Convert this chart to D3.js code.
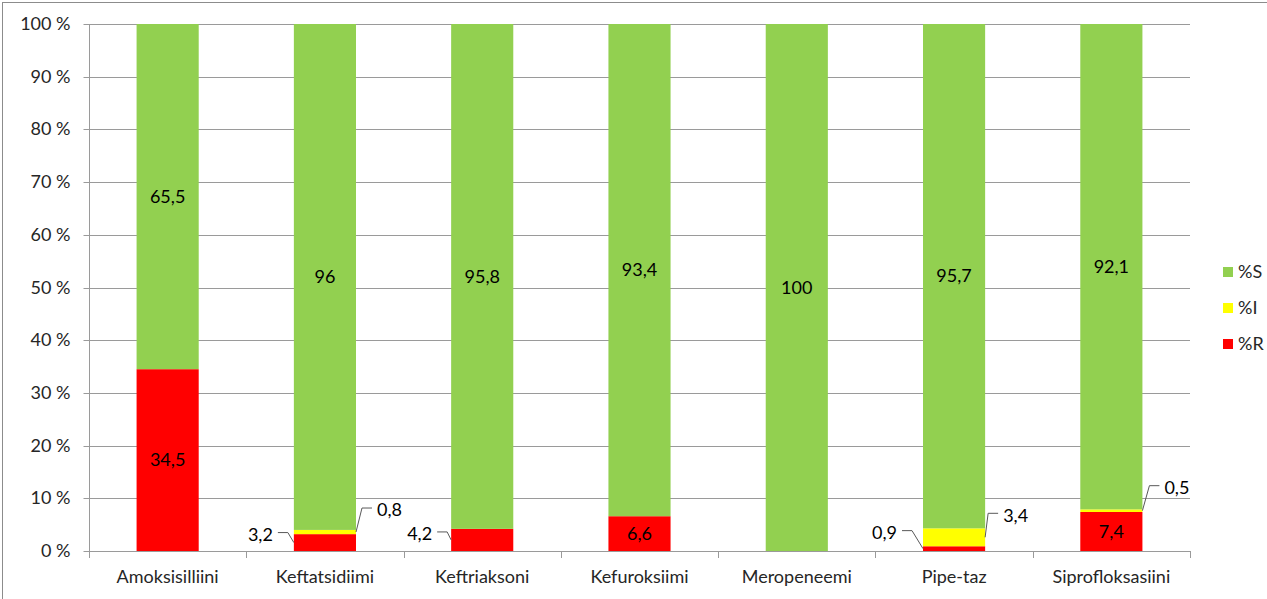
<!DOCTYPE html>
<html>
<head>
<meta charset="utf-8">
<script src="https://cdn.jsdelivr.net/npm/d3@7"></script>
<style>
  html, body { margin: 0; padding: 0; background: #fff; }
  svg { display: block; }
  text { font-family: Lato, "Open Sans", sans-serif; fill: #262626; }
</style>
</head>
<body>
<svg id="chart" width="1267" height="599"></svg>
<script>
// ---- data ----
const categories = ["Amoksisilliini", "Keftatsidiimi", "Keftriaksoni", "Kefuroksiimi", "Meropeneemi", "Pipe-taz", "Siprofloksasiini"];
const seriesNames = ["%R", "%I", "%S"];
const valuesR = [34.5, 3.2, 4.2, 6.6, 0, 0.9, 7.4];
const valuesI = [0, 0.8, 0, 0, 0, 3.4, 0.5];
const valuesS = [65.5, 96, 95.8, 93.4, 100, 95.7, 92.1];
const yTicks = [0, 10, 20, 30, 40, 50, 60, 70, 80, 90, 100];

// ---- layout / style (not data) ----
const colors = { "%R": "#FF0000", "%I": "#FFFF00", "%S": "#92D050" };
const calloutLayout = {
  "Keftatsidiimi|%R": { side: "left", dx: -6, dy: -10 },
  "Keftatsidiimi|%I": { side: "right", dx: 6, dy: -24 },
  "Keftriaksoni|%R": { side: "left", dx: -4, dy: -8 },
  "Pipe-taz|%R": { side: "left", dx: -11, dy: -18 },
  "Pipe-taz|%I": { side: "right", dx: 3, dy: -24 },
  "Siprofloksasiini|%I": { side: "right", dx: 7, dy: -25 }
};

(function () {
const svg = d3.select("#chart");
const pL = 89, pR = 1190, pT = 24, pB = 551;

// outer frame
svg.append("rect").attr("x", 2.5).attr("y", 2.5).attr("width", 1300).attr("height", 700)
  .attr("fill", "none").attr("stroke", "#8c8c8c").attr("stroke-width", 1);

const x = d3.scaleBand().domain(categories).range([pL, pR]).padding(0);
const y = d3.scaleLinear().domain([0, 100]).range([pB, pT]);

// gridlines
svg.append("g").selectAll("line").data(yTicks).join("line")
  .attr("x1", pL).attr("x2", pR)
  .attr("y1", d => Math.round(y(d)) + 0.5).attr("y2", d => Math.round(y(d)) + 0.5)
  .attr("stroke", "#9a9a9a").attr("stroke-width", 1);

// y axis
const yAxis = svg.append("g").attr("transform", `translate(${pL + 0.5},0)`)
  .call(d3.axisLeft(y).tickValues(yTicks).tickSize(6).tickPadding(13).tickFormat(d => d + " %"));
yAxis.select(".domain").remove();
yAxis.selectAll(".tick").attr("transform", d => `translate(0,${Math.round(y(d)) + 0.5})`);
yAxis.selectAll("line").attr("stroke", "#9a9a9a");
yAxis.selectAll("text").style("font-size", "18px").style("font-family", "Lato, sans-serif").attr("fill", "#262626");

svg.append("line").attr("x1", pL + 0.5).attr("x2", pL + 0.5).attr("y1", pT).attr("y2", pB + 0.5)
  .attr("stroke", "#9a9a9a");

// stacked data
const rows = categories.map((c, i) => ({ cat: c, "%R": valuesR[i], "%I": valuesI[i], "%S": valuesS[i] }));
const stack = d3.stack().keys(seriesNames)(rows);

const barW = x.bandwidth() * 0.395;
const bx = c => x(c) + (x.bandwidth() - barW) / 2;

svg.append("g").selectAll("g").data(stack).join("g")
  .attr("fill", s => colors[s.key])
  .selectAll("rect").data(s => s.map(d => ({ d, key: s.key }))).join("rect")
  .attr("x", o => bx(o.d.data.cat))
  .attr("width", barW)
  .attr("y", o => y(o.d[1]))
  .attr("height", o => y(o.d[0]) - y(o.d[1]));

// category axis line + boundary ticks
svg.append("line").attr("x1", pL).attr("x2", pR).attr("y1", pB + 0.5).attr("y2", pB + 0.5)
  .attr("stroke", "#9a9a9a");
const bounds = categories.map(c => x(c)).concat([x(categories[categories.length - 1]) + x.bandwidth()]);
svg.append("g").selectAll("line").data(bounds).join("line")
  .attr("x1", d => Math.round(d) + 0.5).attr("x2", d => Math.round(d) + 0.5)
  .attr("y1", pB).attr("y2", pB + 7).attr("stroke", "#9a9a9a");

svg.append("g").selectAll("text").data(categories).join("text")
  .attr("x", c => x(c) + x.bandwidth() / 2).attr("y", 583)
  .attr("text-anchor", "middle").style("font-size", "18px").text(c => c);

// data labels
const fmt = v => String(v).replace(".", ",");
const labels = svg.append("g");
stack.forEach(s => {
  s.forEach(d => {
    const v = d.data[s.key];
    if (!v) return;
    const cat = d.data.cat;
    const mid = (y(d[0]) + y(d[1])) / 2;
    const lay = calloutLayout[cat + "|" + s.key];
    if (!lay) {
      labels.append("text").attr("x", x(cat) + x.bandwidth() / 2).attr("y", mid)
        .attr("dy", "0.35em").attr("text-anchor", "middle").style("font-size", "18px")
        .style("fill", "#000").text(fmt(v));
    } else {
      const edge = lay.side === "left" ? bx(cat) : bx(cat) + barW;
      const sgn = lay.side === "left" ? -1 : 1;
      const ex = edge + lay.dx, ey = mid + lay.dy;
      const hx = ex + sgn * 10;
      labels.append("path")
        .attr("d", `M${edge},${mid}L${ex},${ey}L${hx},${ey}`)
        .attr("fill", "none").attr("stroke", "#595959").attr("stroke-width", 1);
      labels.append("text").attr("x", hx + sgn * 5).attr("y", ey + 2)
        .attr("dy", "0.35em").attr("text-anchor", lay.side === "left" ? "end" : "start")
        .style("font-size", "18px").style("fill", "#000").text(fmt(v));
    }
  });
});

// legend
const legendY = { "%S": 272, "%I": 308, "%R": 344 };
const lg = svg.append("g");
["%S", "%I", "%R"].forEach(k => {
  lg.append("rect").attr("x", 1223).attr("y", legendY[k] - 5).attr("width", 10).attr("height", 10)
    .attr("fill", colors[k]);
  lg.append("text").attr("x", 1238).attr("y", legendY[k]).attr("dy", "0.35em")
    .style("font-size", "18px").text(k);
});
})();
</script>
</body>
</html>
